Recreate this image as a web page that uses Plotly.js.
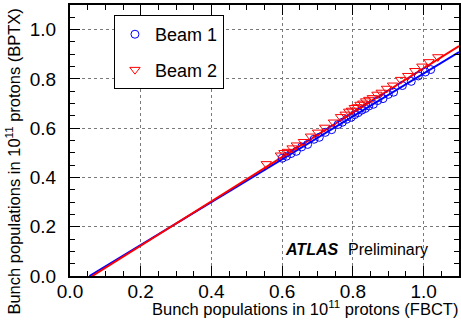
<!DOCTYPE html>
<html>
<head>
<meta charset="utf-8">
<script src="https://cdn.plot.ly/plotly-3.0.1.min.js"></script>
<style>html,body{margin:0;padding:0;background:#fff;}#chart{width:461px;height:322px;}</style>
</head>
<body>
<div id="chart"></div>
<script>
// Beam 1 (circles)
var beam1X = [0.600,0.612,0.625,0.640,0.655,0.672,0.690,0.705,0.722,0.740,0.758,0.770,0.782,0.795,0.805,0.815,0.825,0.835,0.845,0.858,0.870,0.885,0.900,0.915,0.940,0.965,0.985,1.005,1.020];
var beam1Y = [0.478,0.486,0.497,0.506,0.524,0.534,0.555,0.563,0.583,0.594,0.615,0.624,0.636,0.644,0.655,0.663,0.673,0.680,0.690,0.697,0.712,0.720,0.737,0.746,0.773,0.790,0.812,0.828,0.838];
// Beam 2 (triangles)
var beam2X = [0.555,0.595,0.605,0.615,0.628,0.640,0.660,0.680,0.700,0.720,0.745,0.765,0.778,0.788,0.796,0.804,0.812,0.820,0.828,0.836,0.845,0.855,0.868,0.880,0.895,0.912,0.935,0.955,0.975,0.995,1.015,1.040];
var beam2Y = [0.455,0.490,0.500,0.505,0.519,0.531,0.545,0.567,0.583,0.603,0.624,0.646,0.656,0.668,0.672,0.683,0.686,0.696,0.701,0.710,0.716,0.723,0.737,0.745,0.761,0.774,0.797,0.813,0.833,0.851,0.869,0.889];
// Linear fits: y = slope * (x - x0)
var fitSlope = [0.870, 0.900];
var fitX0 = [0.055, 0.063];
var fitXEnd = 1.1;

function fitLine(i, color) {
  var xs = [fitX0[i], fitXEnd];
  var ys = xs.map(function (x) { return fitSlope[i] * (x - fitX0[i]); });
  return {x: xs, y: ys, mode: 'lines', line: {color: color, width: 2}, showlegend: false, hoverinfo: 'skip'};
}

var FONT = '"Liberation Sans", Arial, sans-serif';
var traces = [
  fitLine(0, '#0000ff'),
  fitLine(1, '#ff0000'),
  {x: beam1X, y: beam1Y, mode: 'markers', name: 'Beam 1', legendgroup: 'b1',
   marker: {symbol: 'circle-open', size: 8, color: '#0000ff', line: {width: 1, color: '#0000ff'}}},
  {x: beam2X, y: beam2Y, mode: 'markers', name: 'Beam 2', legendgroup: 'b2',
   marker: {symbol: 'triangle-down-open', size: 9, color: '#ff0000', line: {width: 1, color: '#ff0000'}}}
];

var axisCommon = {
  range: [0, 1.1], dtick: 0.2, tick0: 0, tickformat: '.1f',
  ticks: 'inside', ticklen: 10, tickwidth: 1, tickcolor: '#000',
  showline: true, linewidth: 2, linecolor: '#000', mirror: 'ticks',
  showgrid: true, gridcolor: '#7a7a7a', griddash: 'dot', gridwidth: 1,
  zeroline: false, fixedrange: true,
  tickfont: {family: FONT, size: 19, color: '#000'},
  minor: {dtick: 0.05, ticks: 'inside', ticklen: 5, tickcolor: '#000', tickwidth: 1, showgrid: false}
};

var layout = {
  width: 461, height: 322,
  margin: {l: 70, r: 2, t: 5, b: 46},
  paper_bgcolor: '#fff', plot_bgcolor: '#fff',
  xaxis: Object.assign({}, axisCommon, {ticklabelstandoff: -3}),
  yaxis: Object.assign({}, axisCommon, {ticklabelstandoff: 8}),
  showlegend: true,
  legend: {x: 0.113, y: 0.963, xanchor: 'left', yanchor: 'top',
    bgcolor: '#fff', bordercolor: '#000', borderwidth: 1,
    font: {family: FONT, size: 18, color: '#000'}, tracegroupgap: 9},
  annotations: [
    {text: 'Bunch populations in 10<sup>11</sup> protons (FBCT)', xref: 'paper', yref: 'paper',
     x: 1.003, y: -0.162, xanchor: 'right', yanchor: 'bottom', showarrow: false,
     font: {family: FONT, size: 16.5, color: '#000'}},
    {text: 'Bunch populations in 10<sup>11</sup> protons (BPTX)', xref: 'paper', yref: 'paper',
     x: -0.146, y: 0.995, xanchor: 'center', yanchor: 'top', textangle: -90, showarrow: false,
     font: {family: FONT, size: 16.5, color: '#000'}},
    {text: '<b><i>ATLAS</i></b>', xref: 'paper', yref: 'paper', x: 0.548, y: 0.096,
     xanchor: 'left', yanchor: 'middle', showarrow: false, font: {family: FONT, size: 16, color: '#000'}},
    {text: 'Preliminary', xref: 'paper', yref: 'paper', x: 0.71, y: 0.096,
     xanchor: 'left', yanchor: 'middle', showarrow: false, font: {family: FONT, size: 16, color: '#000'}}
  ]
};

Plotly.newPlot('chart', traces, layout, {displayModeBar: false, staticPlot: true});
</script>
</body>
</html>
